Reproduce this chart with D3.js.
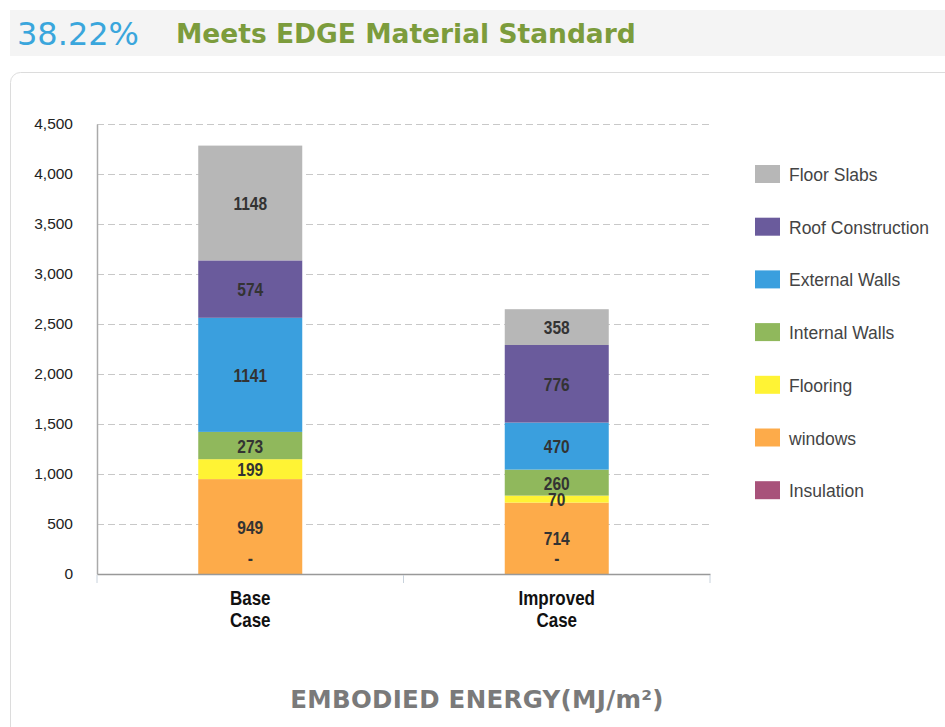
<!DOCTYPE html>
<html>
<head>
<meta charset="utf-8">
<script src="https://cdn.jsdelivr.net/npm/d3@7"></script>
<style>
  body { margin: 0; background: #fff; font-family: "Liberation Sans", Arial, sans-serif; }
</style>
</head>
<body>
<svg id="chart" width="945" height="727"></svg>
<script>
var cases = ["Base|Case", "Improved|Case"];
var series = ["Insulation", "windows", "Flooring", "Internal Walls", "External Walls", "Roof Construction", "Floor Slabs"];
var colors = ["#a8527a", "#fdab4a", "#fff334", "#90b85c", "#3a9fde", "#6a5b9c", "#b7b7b7"];
var insulation = [0, 0];
var windows = [949, 714];
var flooring = [199, 70];
var internalWalls = [273, 260];
var externalWalls = [1141, 470];
var roofConstruction = [574, 776];
var floorSlabs = [1148, 358];
var yTicks = [0, 500, 1000, 1500, 2000, 2500, 3000, 3500, 4000, 4500];
var legendOrder = ["Floor Slabs", "Roof Construction", "External Walls", "Internal Walls", "Flooring", "windows", "Insulation"];

var seriesValues = [insulation, windows, flooring, internalWalls, externalWalls, roofConstruction, floorSlabs];
var table = cases.map(function(c, i){
	var row = { cat: c };
	series.forEach(function(s, j){ row[s] = seriesValues[j][i]; });
	return row;
});

var svg = d3.select("#chart");

// header band
svg.append("rect").attr("x", 10).attr("y", 10).attr("width", 935).attr("height", 46).attr("fill", "#f4f4f4");
svg.append("text").attr("x", 17).attr("y", 45)
	.attr("font-family", "'DejaVu Sans', sans-serif").attr("font-size", 32).attr("fill", "#3aa6dc")
	.text("38.22%");
svg.append("text").attr("x", 176).attr("y", 43)
	.attr("font-family", "'DejaVu Sans', sans-serif").attr("font-weight", "bold").attr("font-size", 26.5).attr("fill", "#7c9c3c")
	.text("Meets EDGE Material Standard");

// chart box
svg.append("rect").attr("x", 10.5).attr("y", 72.5).attr("width", 950).attr("height", 670).attr("rx", 10)
	.attr("fill", "#fff").attr("stroke", "#dcdcdc");

var x = d3.scaleBand().domain(cases).range([97, 710]).padding(0);
var y = d3.scaleLinear().domain([0, 4500]).range([574, 124]);
var barW = 104;

// grid
svg.append("g").selectAll("line").data(yTicks.filter(function(d){ return d > 0; })).enter().append("line")
	.attr("x1", 97).attr("x2", 710)
	.attr("y1", function(d){ return y(d) + 0.5; }).attr("y2", function(d){ return y(d) + 0.5; })
	.attr("stroke", "#c8c8c8").attr("stroke-dasharray", "7,4");

// y axis
var yAxis = svg.append("g").attr("transform", "translate(97,0)")
	.call(d3.axisLeft(y).tickValues(yTicks).tickFormat(d3.format(",")).tickSize(0).tickPadding(24));
yAxis.select(".domain").attr("stroke", "#aaa").attr("stroke-width", 1.5);
yAxis.selectAll("text").attr("font-size", 15.5).attr("fill", "#222").attr("font-family", "'Liberation Sans', Arial, sans-serif");

// stacked bars
var stack = d3.stack().keys(series);
var layers = stack(table);

var g = svg.append("g");
layers.forEach(function(layer, j){
	g.selectAll(null).data(layer).enter().append("rect")
		.attr("x", function(d){ return x(d.data.cat) + x.bandwidth()/2 - barW/2; })
		.attr("width", barW)
		.attr("y", function(d){ return y(d[1]); })
		.attr("height", function(d){ return y(d[0]) - y(d[1]); })
		.attr("fill", colors[j]);
});

// labels (narrow look -> squeeze horizontally)
layers.forEach(function(layer, j){
	g.selectAll(null).data(layer).enter().append("text")
		.attr("transform", function(d){
			var v = d[1] - d[0];
			var cy = v === 0 ? y(d[0]) - 9 : (y(d[0]) + y(d[1]))/2 + 7;
			return "translate(" + (x(d.data.cat) + x.bandwidth()/2) + "," + cy + ") scale(0.84,1)";
		})
		.attr("text-anchor", "middle")
		.attr("font-size", 18.5).attr("font-weight", "bold").attr("fill", "#333")
		.attr("font-family", "'Liberation Sans', Arial, sans-serif")
		.text(function(d){ var v = d[1] - d[0]; return v === 0 ? "-" : v; });
});

// x axis
var xAxis = svg.append("g").attr("transform", "translate(0,574)")
	.call(d3.axisBottom(x).tickSize(0).tickFormat(""));
xAxis.select(".domain").attr("stroke", "#999").attr("stroke-width", 1.5);
svg.append("g").selectAll("line").data([97, 403.5, 710]).enter().append("line")
	.attr("x1", function(d){ return d; }).attr("x2", function(d){ return d; })
	.attr("y1", 575).attr("y2", 583).attr("stroke", "#c8d2dc");

svg.append("g").selectAll("text").data(cases).enter().append("text")
	.attr("transform", function(d){ return "translate(" + (x(d) + x.bandwidth()/2) + ",605) scale(0.85,1)"; })
	.attr("text-anchor", "middle").attr("font-size", 20).attr("font-weight", "bold").attr("fill", "#111")
	.attr("font-family", "'Liberation Sans', Arial, sans-serif")
	.each(function(d){
		var t = d3.select(this);
		d.split("|").forEach(function(p, i){
			t.append("tspan").attr("x", 0).attr("y", i * 22).text(p);
		});
	});

// legend
var leg = svg.append("g").selectAll("g").data(legendOrder).enter().append("g")
	.attr("transform", function(d, i){ return "translate(755," + (165 + i * 52.7) + ")"; });
leg.append("rect").attr("width", 25).attr("height", 18)
	.attr("fill", function(d){ return colors[series.indexOf(d)]; });
leg.append("text").attr("x", 34).attr("y", 16)
	.attr("font-size", 17.5).attr("fill", "#444")
	.attr("font-family", "'Liberation Sans', Arial, sans-serif")
	.text(function(d){ return d; });

// title
svg.append("text").attr("x", 477).attr("y", 708).attr("text-anchor", "middle")
	.attr("font-size", 24.5).attr("font-weight", "bold").attr("fill", "#7a7a7a")
	.attr("letter-spacing", 0.3)
	.attr("font-family", "'DejaVu Sans', sans-serif")
	.text("EMBODIED ENERGY(MJ/m²)");
</script>
</body>
</html>
